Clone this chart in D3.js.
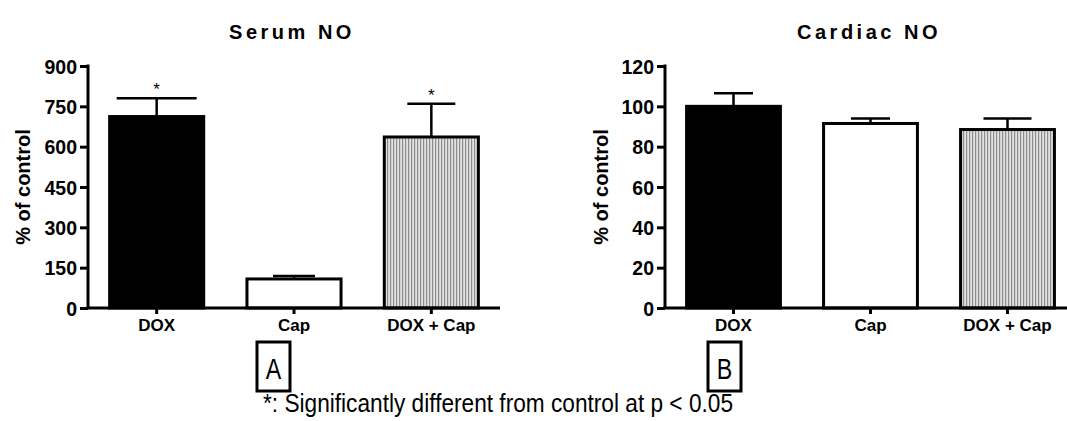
<!DOCTYPE html>
<html>
<head>
<meta charset="utf-8">
<script src="https://cdn.jsdelivr.net/npm/d3@7"></script>
<style>
  body { margin: 0; background: #fff; }
  svg { display: block; font-family: "Liberation Sans", Arial, sans-serif; }
</style>
</head>
<body>
<div id="chart"></div>
<script>
// Data.
var categories = ['DOX', 'Cap', 'DOX + Cap'];
var serumMean = [712, 108, 636];
var serumSem = [68, 11, 124];
var serumSig = [true, false, true];
var serumTicks = [0, 150, 300, 450, 600, 750, 900];
var cardiacMean = [100, 91.5, 88.5];
var cardiacSem = [6.5, 2.5, 5.5];
var cardiacSig = [false, false, false];
var cardiacTicks = [0, 20, 40, 60, 80, 100, 120];
var panelTitles = ['Serum NO', 'Cardiac NO'];
var panelLetters = ['A', 'B'];
var footnote = '*: Significantly different from control at p < 0.05';

var W = 1067, H = 421;
var svg = d3.select('#chart').append('svg')
    .attr('width', W)
    .attr('height', H);

// Vertical stripe fill for the third group.
var pat = svg.append('defs').append('pattern')
    .attr('id', 'stripes')
    .attr('patternUnits', 'userSpaceOnUse')
    .attr('width', 3)
    .attr('height', 10);
pat.append('rect').attr('width', 3).attr('height', 10).attr('fill', '#e2e2e2');
pat.append('rect').attr('width', 1.2).attr('height', 10).attr('fill', '#8c8c8c');

var fills = ['#000', '#fff', 'url(#stripes)'];

function panel(opt) {
    var g = svg.append('g');

    var y = d3.scaleLinear()
        .domain([0, d3.max(opt.ticks)])
        .range([308, 66]);

    var x = d3.scaleBand()
        .domain(categories)
        .range([opt.left, opt.right])
        .paddingInner(0.315)
        .paddingOuter(0.1575);

    // Bars.
    g.selectAll('rect.bar')
        .data(categories)
        .enter()
        .append('rect')
        .attr('class', 'bar')
        .attr('x', d => x(d))
        .attr('width', x.bandwidth())
        .attr('y', (d, i) => y(opt.mean[i]))
        .attr('height', (d, i) => y(0) - y(opt.mean[i]))
        .attr('fill', (d, i) => fills[i])
        .attr('stroke', '#000')
        .attr('stroke-width', 3);

    // Error bars (upper only).
    var eb = g.selectAll('g.err')
        .data(categories)
        .enter()
        .append('g')
        .attr('class', 'err');
    eb.append('line')
        .attr('x1', d => x(d) + x.bandwidth() / 2)
        .attr('x2', d => x(d) + x.bandwidth() / 2)
        .attr('y1', (d, i) => y(opt.mean[i]))
        .attr('y2', (d, i) => y(opt.mean[i] + opt.sem[i]))
        .attr('stroke', '#000')
        .attr('stroke-width', 2.5);
    eb.append('line')
        .attr('x1', (d, i) => x(d) + x.bandwidth() / 2 - opt.caps[i] / 2)
        .attr('x2', (d, i) => x(d) + x.bandwidth() / 2 + opt.caps[i] / 2)
        .attr('y1', (d, i) => y(opt.mean[i] + opt.sem[i]))
        .attr('y2', (d, i) => y(opt.mean[i] + opt.sem[i]))
        .attr('stroke', '#000')
        .attr('stroke-width', 2.5);

    // Significance marks.
    g.selectAll('text.sig')
        .data(categories.filter((d, i) => opt.sig[i]))
        .enter()
        .append('text')
        .attr('class', 'sig')
        .attr('x', d => x(d) + x.bandwidth() / 2)
        .attr('y', d => y(opt.mean[categories.indexOf(d)] + opt.sem[categories.indexOf(d)]) - 3)
        .attr('text-anchor', 'middle')
        .attr('font-size', 17)
        .text('*');

    // Axes.
    var yAxis = g.append('g')
        .attr('transform', 'translate(' + opt.left + ',0)')
        .call(d3.axisLeft(y).tickValues(opt.ticks).tickSize(8).tickPadding(3));
    var xAxis = g.append('g')
        .attr('transform', 'translate(0,' + y(0) + ')')
        .call(d3.axisBottom(x).tickSize(6).tickPadding(5));

    [yAxis, xAxis].forEach(function(a) {
        a.select('.domain').attr('stroke-width', 3).attr('stroke', '#000');
        a.selectAll('.tick line').attr('stroke-width', 3).attr('stroke', '#000');
        a.selectAll('.tick text')
            .attr('fill', '#000')
            .attr('font-weight', 'bold')
            .attr('font-family', '"Liberation Sans", Arial, sans-serif');
    });
    yAxis.selectAll('.tick text').attr('font-size', 19.5).attr('dy', '0.36em');
    xAxis.selectAll('.tick text').attr('font-size', 17);
    yAxis.select('.domain').attr('d', 'M0,' + y(0) + 'V' + (y(d3.max(opt.ticks)) - 1.5));
    xAxis.select('.domain').attr('d', 'M' + (opt.left - 1.5) + ',0H' + opt.axisEnd);

    // Titles.
    g.append('text')
        .attr('x', opt.titleX + 2)
        .attr('y', 39)
        .attr('text-anchor', 'middle')
        .style('font-weight', 'bold')
        .style('font-size', '20px')
        .style('letter-spacing', '3.5px')
        .text(opt.title);

    g.append('text')
        .attr('transform', 'translate(' + opt.labelX + ',187) rotate(-90)')
        .attr('text-anchor', 'middle')
        .attr('font-weight', 'bold')
        .attr('font-size', 20)
        .text('% of control');

    // Panel letter box.
    g.append('rect')
        .attr('x', opt.boxX)
        .attr('y', 342)
        .attr('width', 33)
        .attr('height', 49)
        .attr('fill', 'none')
        .attr('stroke', '#000')
        .attr('stroke-width', 3);
    g.append('text')
        .attr('transform', 'translate(' + (opt.boxX + 16.5) + ',379) scale(0.8,1)')
        .attr('text-anchor', 'middle')
        .attr('font-size', 29)
        .text(opt.letter);
}

panel({
    mean: serumMean, sem: serumSem, sig: serumSig, ticks: serumTicks,
    caps: [80, 42, 48],
    left: 88, right: 500, axisEnd: 500,
    title: panelTitles[0], titleX: 290, labelX: 30,
    boxX: 257, letter: panelLetters[0]
});

panel({
    mean: cardiacMean, sem: cardiacSem, sig: cardiacSig, ticks: cardiacTicks,
    caps: [39, 39, 48],
    left: 665, right: 1076, axisEnd: 1067,
    title: panelTitles[1], titleX: 867, labelX: 608,
    boxX: 708, letter: panelLetters[1]
});

svg.append('text')
    .attr('x', 263)
    .attr('y', 412)
    .attr('font-size', 25)
    .attr('textLength', 470)
    .attr('lengthAdjust', 'spacingAndGlyphs')
    .text(footnote);
</script>
</body>
</html>
